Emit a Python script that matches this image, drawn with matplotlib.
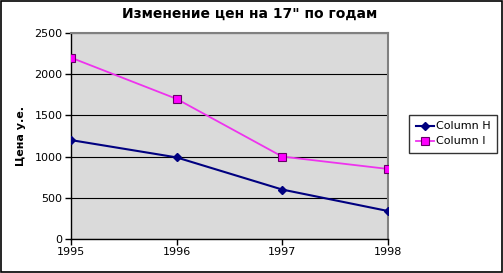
import matplotlib
matplotlib.use("Agg")
import matplotlib.pyplot as plt
from matplotlib.patches import Rectangle

years = [1995, 1996, 1997, 1998]
col_h = [1200, 990, 600, 340]
col_i = [2200, 1700, 1000, 850]
yticks = [0, 500, 1000, 1500, 2000, 2500]
title = 'Изменение цен на 17" по годам'
ylabel = "Цена у.е."

fig = plt.figure(figsize=(5.03, 2.73), dpi=100)
fig.patch.set_facecolor("white")
fig.add_artist(Rectangle((0.001, 0.002), 0.997, 0.995, transform=fig.transFigure,
                         fill=False, edgecolor="black", linewidth=1.2))

ax = fig.add_axes([0.141, 0.1245, 0.630, 0.755])
ax.set_facecolor("#dadada")
ax.plot(years, col_h, color="#000080", linewidth=1.5, marker="D", markersize=4.5,
        markerfacecolor="#000080", markeredgecolor="#000080", label="Column H", zorder=3)
ax.plot(years, col_i, color="#ee33ee", linewidth=1.3, marker="s", markersize=5.5,
        markerfacecolor="#ff00ff", markeredgecolor="#660066", markeredgewidth=0.8,
        label="Column I", zorder=3)

ax.set_xlim(1995, 1998)
ax.set_ylim(0, 2500)
ax.set_xticks(years)
ax.set_yticks(yticks)
ax.tick_params(axis="both", labelsize=8, direction="out", length=4, width=1, pad=2)
ax.yaxis.grid(True, color="black", linewidth=0.8)
ax.set_axisbelow(True)
for s in ["left", "bottom"]:
    ax.spines[s].set_color("black")
    ax.spines[s].set_linewidth(1)
for s in ["top", "right"]:
    ax.spines[s].set_color("#808080")
    ax.spines[s].set_linewidth(1.5)

ax.set_ylabel(ylabel, fontsize=8, fontweight="bold", labelpad=6)
fig.text(0.497, 0.948, title, ha="center", va="center", fontsize=10, fontweight="bold")

leg = ax.legend(loc="center left", bbox_to_anchor=(1.05, 0.51), fontsize=8,
                frameon=True, fancybox=False, edgecolor="black", borderpad=0.6,
                handlelength=1.6, handletextpad=0.2, labelspacing=0.45)
leg.get_frame().set_linewidth(1)

fig.savefig("out.png", dpi=100)
